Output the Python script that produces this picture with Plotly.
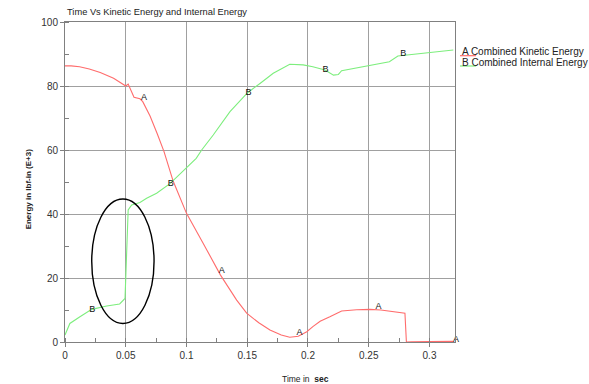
import numpy as np
import plotly.graph_objects as go

# ---- data ----
t_kinetic = [0, 0.005, 0.012, 0.02, 0.029, 0.04, 0.05, 0.052, 0.0568, 0.0617, 0.064,
             0.07, 0.076, 0.0815, 0.089, 0.1, 0.1138, 0.128, 0.1413, 0.1495,
             0.1595, 0.1687, 0.178, 0.185, 0.192, 0.199, 0.204, 0.21, 0.218, 0.2277,
             0.24, 0.251, 0.26, 0.27, 0.2798, 0.281, 0.2853, 0.3, 0.3196]
kinetic = [86.3, 86.3, 86.0, 85.3, 84.2, 82.4, 80.0, 80.6, 76.5, 76.0, 75.1,
           70.6, 65.0, 59.5, 50.3, 40.2, 30.8, 20.9, 13.1, 9.0,
           6.0, 3.75, 2.2, 1.5, 1.8, 3.2, 4.8, 6.5, 7.9, 9.7,
           10.1, 10.2, 10.0, 9.5, 9.0, 0.0, 0.1, 0.15, 0.2]

t_internal = [0, 0.004, 0.0123, 0.022, 0.0343, 0.045, 0.0494, 0.0505, 0.0515, 0.052,
              0.0549, 0.0617, 0.0672, 0.0754, 0.0864, 0.1, 0.108, 0.1125, 0.122,
              0.1358, 0.1503, 0.1605, 0.1714, 0.185, 0.196, 0.204, 0.214, 0.221,
              0.225, 0.2277, 0.248, 0.267, 0.274, 0.2977, 0.3196]
internal = [2.2, 5.8, 7.9, 10.2, 11.25, 11.9, 13.6, 27, 38, 41.3,
            42.8, 43.6, 44.9, 46.5, 49.5, 54.3, 57.4, 60, 64.7,
            72, 77.9, 80.8, 84.0, 86.8, 86.6, 86.0, 85.0, 83.4,
            83.6, 84.8, 86.25, 87.6, 89.4, 90.4, 91.25]

label_A_t = [0.065, 0.129, 0.193, 0.258, 0.3194]
label_A_y = [76.2, 22.3, 2.9, 11.0, 0.8]
label_B_t = [0.0225, 0.087, 0.151, 0.2145, 0.2785]
label_B_y = [10.2, 49.6, 77.9, 85.2, 90.0]

x_ticks = [0, 0.05, 0.1, 0.15, 0.2, 0.25, 0.3]
x_tick_text = ["0", "0.05", "0.1", "0.15", "0.2", "0.25", "0.3"]
y_ticks = [0, 20, 40, 60, 80, 100]

series_names = ["Combined Kinetic Energy", "Combined Internal Energy"]
red = "rgb(255,108,108)"
green = "rgb(125,238,125)"
font = "Liberation Sans, Arial, sans-serif"

fig = go.Figure()
fig.add_trace(go.Scatter(x=t_kinetic, y=kinetic, mode="lines",
                         line=dict(color=red, width=1.1), showlegend=False))
fig.add_trace(go.Scatter(x=t_internal, y=internal, mode="lines",
                         line=dict(color=green, width=1.1), showlegend=False))
fig.add_trace(go.Scatter(x=label_A_t, y=label_A_y, mode="text", text=["A"] * len(label_A_t),
                         textposition=["middle center"] * (len(label_A_t) - 1) + ["middle right"],
                         textfont=dict(family=font, size=9, color="#111"),
                         cliponaxis=False, showlegend=False))
fig.add_trace(go.Scatter(x=label_B_t, y=label_B_y, mode="text", text=["B"] * len(label_B_t),
                         textfont=dict(family=font, size=9, color="#111"),
                         cliponaxis=False, showlegend=False))

# ellipse highlight
fig.add_shape(type="circle", xref="x", yref="y", x0=0.022, x1=0.0733, y0=5.8, y1=44.7,
              line=dict(color="black", width=1.4))

# legend drawn as text + underline
legend_y = [0.908, 0.872]
under_y = [0.8947, 0.8625]
for name, letter, col, ly, uy in zip(series_names, ["A", "B"], [red, green], legend_y, under_y):
    fig.add_annotation(xref="paper", yref="paper", x=1.0128, y=ly, xanchor="left", yanchor="middle",
                       text=f"{letter} {name}", showarrow=False,
                       font=dict(family=font, size=10, color="#222"))
    fig.add_shape(type="line", xref="paper", yref="paper", x0=1.0128, x1=1.054, y0=uy, y1=uy,
                  line=dict(color=col, width=1.2))

# title
fig.add_annotation(xref="paper", yref="paper", x=0, y=1.031, xanchor="left", yanchor="middle",
                   text="Time Vs Kinetic Energy and Internal Energy", showarrow=False,
                   font=dict(family=font, size=9.3, color="#222"))
# axis titles
fig.add_annotation(xref="paper", yref="paper", x=-0.095, y=0.48, xanchor="center", yanchor="middle",
                   text="<b>Energy in lbf-in (E+3)</b>", textangle=-90, showarrow=False,
                   font=dict(family=font, size=8, color="#222"))
fig.add_annotation(xref="paper", yref="paper", x=0.551, y=-0.115, xanchor="left", yanchor="middle",
                   text="Time in  <b>sec</b>", showarrow=False,
                   font=dict(family=font, size=8.5, color="#222"))

axis_common = dict(showline=True, linecolor="#808080", linewidth=1, mirror=True,
                   showgrid=True, gridcolor="#a0a0a0", gridwidth=1, zeroline=False,
                   ticks="outside", ticklen=4, tickcolor="#808080",
                   tickfont=dict(family=font, size=10, color="#333"))

fig.update_xaxes(range=[0, 0.321], tickvals=x_ticks, ticktext=x_tick_text,
                 minor=dict(ticks="inside", ticklen=4, tickcolor="#808080", dtick=0.025, tick0=0,
                            showgrid=False),
                 **axis_common)
fig.update_yaxes(range=[0, 100], tickvals=y_ticks,
                 minor=dict(ticks="inside", ticklen=4, tickcolor="#808080", dtick=10, tick0=0,
                            showgrid=False),
                 **axis_common)

fig.update_layout(width=589, height=384, autosize=False,
                  margin=dict(l=65, r=134, t=22, b=42),
                  paper_bgcolor="white", plot_bgcolor="white",
                  font=dict(family=font))

fig.write_html("out.html")
